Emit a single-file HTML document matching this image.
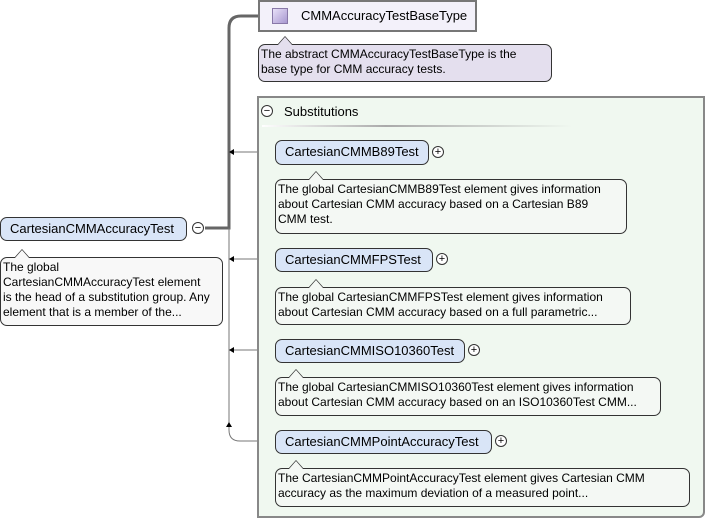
<!DOCTYPE html>
<html><head><style>
body{margin:0;width:706px;height:519px;background:#fff;position:relative;overflow:hidden;font-family:"Liberation Sans",Arial,sans-serif;font-size:12px;color:#000}
.a{position:absolute;box-sizing:border-box}
.node{border:1px solid #333;border-radius:7px;background:#d9e5f7;padding:0 0 0 9px;line-height:22px;font-size:13px;white-space:nowrap}
.desc{border:1px solid #333;border-radius:7px;background:#f4f8f4;padding:2px 2px;line-height:15px;font-size:12px;white-space:nowrap}
.circ{width:12px;height:12px;border:1px solid #333;border-radius:50%;background:#fff;font-size:11px;line-height:10px;text-align:center}
.tri{position:absolute;width:0;height:0;border-left:8px solid transparent;border-right:8px solid transparent;border-bottom:9px solid #333}
.tri i{position:absolute;left:-7px;top:1px;border-left:7px solid transparent;border-right:7px solid transparent;border-bottom:8px solid #f4f8f4}
</style></head><body>
<svg class="a" style="left:0;top:0" width="706" height="519">
<path d="M205 228 H229 V28 Q229 16 241 16 H258" stroke="#666" stroke-width="3" fill="none"/>
<path d="M229 228 V430 Q229 441 240 441 H275" stroke="#777" stroke-width="1" fill="none"/>
<path d="M229 152 H275 M229 259 H275 M229 350 H275" stroke="#777" stroke-width="1"/>
<path d="M229 152 l5 -3 v6z M229 259 l5 -3 v6z M229 350 l5 -3 v6z M229 422 l-3 5 h6z" fill="#000"/>
</svg>
<div class="a" style="left:258px;top:0;width:219px;height:32px;border:2px solid #777;background:#f3f1fa"></div>
<div class="a" style="left:272px;top:8px;width:16px;height:16px;border:1px solid #8878a8;background:linear-gradient(135deg,#e8e0f8,#a898d0)"></div>
<div class="a" style="left:301px;top:8px;font-size:13px">CMMAccuracyTestBaseType</div>
<div class="a desc" style="left:258px;top:44px;width:294px;height:38px;background:#e4dfee">The abstract CMMAccuracyTestBaseType is the<br>base type for CMM accuracy tests.</div>
<div class="tri" style="left:277px;top:36px"><i style="border-bottom-color:#e4dfee"></i></div>
<div class="a" style="left:257px;top:96px;width:448px;height:422px;border:2px solid #888;border-radius:0 0 6px 0;background:#f0f8f0"></div>
<div class="a circ" style="left:261px;top:105px">−</div>
<div class="a" style="left:284px;top:104px;font-size:13px">Substitutions</div>
<div class="a" style="left:262px;top:125px;width:310px;height:2px;background:linear-gradient(90deg,#fff,#aaa 40%,#f0f8f0)"></div>

<div class="a node" style="left:0;top:217px;width:187px;height:24px">CartesianCMMAccuracyTest</div>
<div class="a circ" style="left:192px;top:222px">−</div>
<div class="a desc" style="left:0;top:257px;width:223px;height:69px;background:#f8f8f8">The global<br>CartesianCMMAccuracyTest element<br>is the head of a substitution group. Any<br>element that is a member of the...</div>
<div class="tri" style="left:14px;top:249px"><i style="border-bottom-color:#f8f8f8"></i></div>

<div class="a node" style="left:275px;top:140px;width:154px;height:25px">CartesianCMMB89Test</div>
<div class="a circ" style="left:432px;top:146px">+</div>
<div class="a desc" style="left:275px;top:179px;width:352px;height:55px">The global CartesianCMMB89Test element gives information<br>about Cartesian CMM accuracy based on a Cartesian B89<br>CMM test.</div>
<div class="tri" style="left:308px;top:171px"><i></i></div>

<div class="a node" style="left:275px;top:248px;width:158px;height:24px">CartesianCMMFPSTest</div>
<div class="a circ" style="left:436px;top:253px">+</div>
<div class="a desc" style="left:275px;top:287px;width:356px;height:38px">The global CartesianCMMFPSTest element gives information<br>about Cartesian CMM accuracy based on a full parametric...</div>
<div class="tri" style="left:308px;top:279px"><i></i></div>

<div class="a node" style="left:275px;top:339px;width:190px;height:24px">CartesianCMMISO10360Test</div>
<div class="a circ" style="left:468px;top:344px">+</div>
<div class="a desc" style="left:275px;top:377px;width:386px;height:39px">The global CartesianCMMISO10360Test element gives information<br>about Cartesian CMM accuracy based on an ISO10360Test CMM...</div>
<div class="tri" style="left:288px;top:369px"><i></i></div>

<div class="a node" style="left:275px;top:430px;width:217px;height:24px">CartesianCMMPointAccuracyTest</div>
<div class="a circ" style="left:495px;top:435px">+</div>
<div class="a desc" style="left:275px;top:468px;width:415px;height:39px">The CartesianCMMPointAccuracyTest element gives Cartesian CMM<br>accuracy as the maximum deviation of a measured point...</div>
<div class="tri" style="left:288px;top:460px"><i></i></div>
</body></html>
